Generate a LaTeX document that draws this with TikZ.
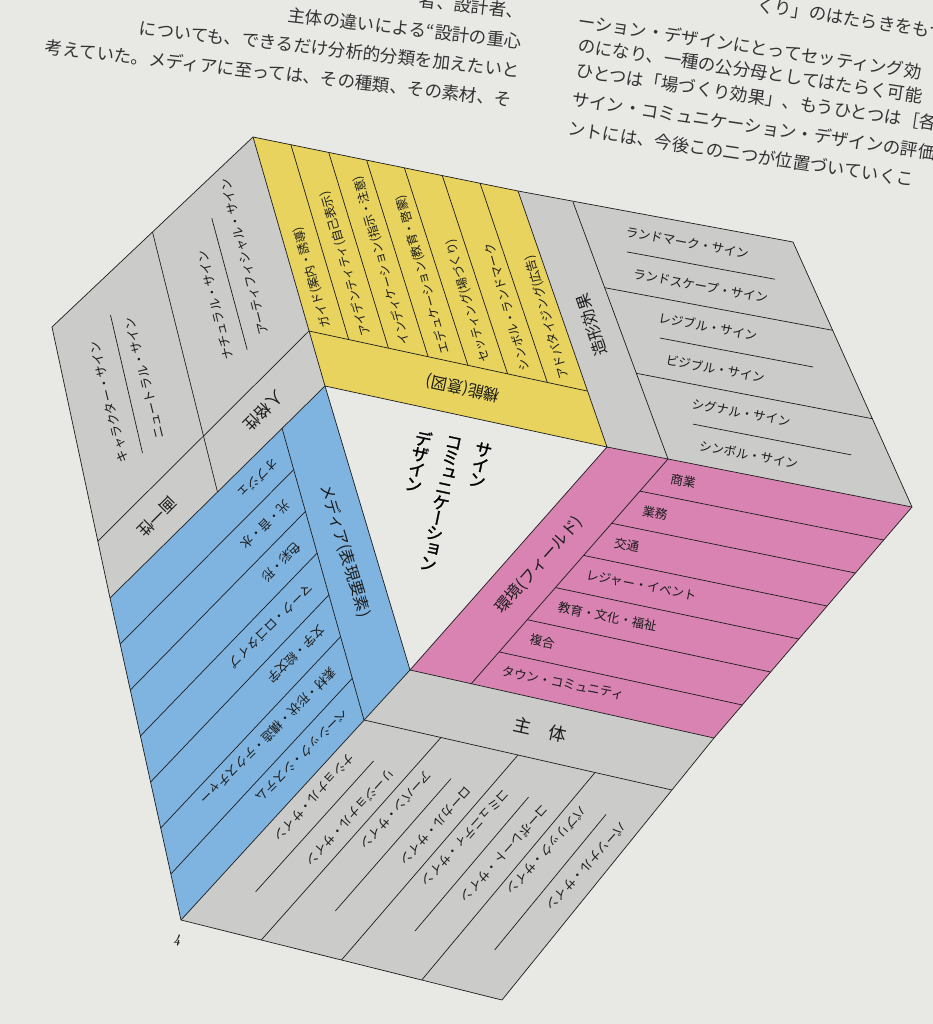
\documentclass[tikz,border=0pt]{standalone}
\usepackage{fontspec}
\newfontfamily\jpfont{Noto Sans CJK JP}
\newfontfamily\jpvfont[RawFeature=+vert, FakeBold=1.2]{Noto Sans CJK JP}
\definecolor{carta}{RGB}{232,232,229}
\definecolor{grigio}{RGB}{203,203,202}
\definecolor{giallo}{RGB}{231,211,94}
\definecolor{rosa}{RGB}{216,131,178}
\definecolor{azzurro}{RGB}{128,180,224}
\definecolor{inchiostro}{RGB}{28,28,28}
\begin{document}
\begin{tikzpicture}[x=1pt, y=-1pt,
    bordo/.style={draw=inchiostro, line width=0.7pt},
    voce/.style={font=\jpfont\fontsize{12.5}{14}\selectfont, text=inchiostro, inner sep=0pt, anchor=west},
    titolo/.style={font=\jpfont\fontsize{16}{18}\selectfont, text=inchiostro, inner sep=0pt},
    testo/.style={font=\jpfont\fontsize{17.5}{20}\selectfont, text=black!80, inner sep=0pt},
    tate/.style={font=\jpvfont\fontsize{17.5}{15.5}\selectfont, execute at begin node={\lineskiplimit=-20pt}, text=black, align=center, inner sep=0pt, anchor=north, rotate=-12}]

        % Sfondo della pagina
        \fill[carta] (0,0) rectangle (933,1024);
        \useasboundingbox (0,0) rectangle (933,1024);

        % Vertici principali
        \coordinate (A) at (325,386);
        \coordinate (B) at (607,447);
        \coordinate (C) at (410,670);
        \coordinate (Y1) at (253,137);
        \coordinate (Y2) at (518,191);
        \coordinate (L1) at (52,327);
        \coordinate (L2) at (110,598);
        \coordinate (BL) at (181,920);
        \coordinate (BR) at (502,1000);
        \coordinate (P4) at (714,738);
        \coordinate (R1) at (793,242);
        \coordinate (R3) at (912,507);

        % Vertici delle fasce
        \coordinate (P) at (309,331);
        \coordinate (Q) at (587,391);
        \coordinate (U1) at (98,541);
        \coordinate (G1) at (573,202);
        \coordinate (G2) at (668,459);
        \coordinate (K2) at (471,684);
        \coordinate (M1) at (282,428);
        \coordinate (D) at (364,720);
        \coordinate (E) at (672,790);

        % Riempimenti
        \fill[giallo] (Y1) -- (Y2) -- (B) -- (A) -- cycle;
        \fill[grigio] (Y2) -- (R1) -- (R3) -- (B) -- cycle;
        \fill[rosa] (B) -- (R3) -- (P4) -- (C) -- cycle;
        \fill[grigio] (C) -- (P4) -- (BR) -- (BL) -- cycle;
        \fill[azzurro] (A) -- (C) -- (BL) -- (L2) -- cycle;
        \fill[grigio] (Y1) -- (L1) -- (L2) -- (A) -- cycle;

        % Contorni
        \draw[bordo] (Y1) -- (Y2) -- (R1) -- (R3) -- (P4) -- (BR) -- (BL) -- (L2) -- (L1) -- cycle;
        \draw[bordo] (A) -- (B) -- (C) -- cycle;
        \draw[bordo] (Y1) -- (A) -- (L2);
        \draw[bordo] (Y2) -- (B) -- (R3);
        \draw[bordo] (P4) -- (C) -- (BL);

        % Fasce dei titoli
        \draw[bordo] (U1) -- (P) -- (Q);
        \draw[bordo] (G1) -- (G2) -- (K2);
        \draw[bordo] (M1) -- (D) -- (E);
        \draw[bordo] (152.5,232) -- (203.5,436) -- (217.5,492);

        % Colonne gialle
        \draw[bordo] (290.9,144.7) -- (348.7,339.6);
        \draw[bordo] (328.7,152.4) -- (388.4,348.1);
        \draw[bordo] (366.6,160.1) -- (428.1,356.7);
        \draw[bordo] (404.4,167.9) -- (467.9,365.3);
        \draw[bordo] (442.3,175.6) -- (507.6,373.9);
        \draw[bordo] (480.1,183.3) -- (547.3,382.4);

        % Righe grigie a destra
        \draw[bordo] (604.7,287.7) -- (832.7,330.3);
        \draw[bordo] (636.3,373.3) -- (872.3,418.7);

        % Righe rosa
        \draw[bordo] (639.9,491.1) -- (883.7,540);
        \draw[bordo] (611.7,523.3) -- (855.4,573);
        \draw[bordo] (583.6,555.4) -- (827.1,606);
        \draw[bordo] (555.4,587.6) -- (798.9,639);
        \draw[bordo] (527.3,619.7) -- (770.6,672);
        \draw[bordo] (499.1,651.9) -- (742.3,705);

        % Righe azzurre
        \draw[bordo] (293.7,469.7) -- (120.1,644);
        \draw[bordo] (305.4,511.4) -- (130.3,690);
        \draw[bordo] (317.1,553.1) -- (140.4,736);
        \draw[bordo] (328.9,594.9) -- (150.6,782);
        \draw[bordo] (340.6,636.6) -- (160.7,828);
        \draw[bordo] (352.3,678.3) -- (170.9,874);

        % Colonne grigie in basso
        \draw[bordo] (441,737.5) -- (261.25,940);
        \draw[bordo] (518,755) -- (341.5,960);
        \draw[bordo] (595,772.5) -- (421.75,980);

        % Trattini fra le coppie di voci
        \draw[bordo] (142.5,453) -- (110.5,315);
        \draw[bordo] (247.2,349.7) -- (211.8,218.3);
        \draw[bordo] (627,251.9) -- (774.8,279.2);
        \draw[bordo] (659.9,338) -- (813.1,367);
        \draw[bordo] (693,424.1) -- (851.4,454.9);
        \draw[bordo] (373.5,761) -- (255.6,891.8);
        \draw[bordo] (451,778.6) -- (335.3,911);
        \draw[bordo] (528.6,797) -- (415,931);
        \draw[bordo] (606,814.4) -- (494.6,950);

        % Voci gialle
        \node[voce, rotate=106, font=\jpfont\fontsize{12}{14}\selectfont] (g1) at (326.7,327.6) {ガイド(案内・誘導)};
        \node[voce, rotate=106, font=\jpfont\fontsize{12}{14}\selectfont] (g2) at (366.4,336.2) {アイデンティティ(自己表示)};
        \node[voce, rotate=106, font=\jpfont\fontsize{12}{14}\selectfont] (g3) at (406.1,344.7) {インディケーション(指示・注意)};
        \node[voce, rotate=106, font=\jpfont\fontsize{12}{14}\selectfont] (g4) at (445.8,353.3) {エデュケーション(教育・啓蒙)};
        \node[voce, rotate=106, font=\jpfont\fontsize{12}{14}\selectfont] (g5) at (485.6,361.9) {セッティング(場づくり)};
        \node[voce, rotate=106, font=\jpfont\fontsize{12}{14}\selectfont] (g6) at (525.3,370.5) {シンボル・ランドマーク};
        \node[voce, rotate=106, font=\jpfont\fontsize{12}{14}\selectfont] (g7) at (565,379) {アドバタイジング(広告)};

        % Voci rosa
        \node[voce, rotate=-11] (r1) at (670.7,478.3) {商業};
        \node[voce, rotate=-11] (r2) at (642.5,510.5) {業務};
        \node[voce, rotate=-11] (r3) at (614.4,542.7) {交通};
        \node[voce, rotate=-11] (r4) at (586.2,574.8) {レジャー・イベント};
        \node[voce, rotate=-11] (r5) at (558.1,607) {教育・文化・福祉};
        \node[voce, rotate=-11] (r6) at (529.9,639.1) {複合};
        \node[voce, rotate=-11] (r7) at (501.7,671.3) {タウン・コミュニティ};

        % Voci azzurre
        \node[voce, rotate=-135] (b1) at (275.8,460.9) {オブジェ};
        \node[voce, rotate=-135] (b2) at (287.5,502.6) {光・音・水};
        \node[voce, rotate=-135] (b3) at (299.2,544.3) {色彩・形};
        \node[voce, rotate=-135] (b4) at (310.9,586) {マーク・ロゴタイプ};
        \node[voce, rotate=-135] (b5) at (322.7,627.8) {文字・絵文字};
        \node[voce, rotate=-135] (b6) at (334.4,669.5) {素材・形状・構造・テクスチャー};
        \node[voce, rotate=-135] (b7) at (346.1,711.2) {ベーシック・システム};

        % Voci grigie a destra
        \node[voce, rotate=-10.5] (s1) at (625.7,231.3) {ランドマーク・サイン};
        \node[voce, rotate=-10.5] (s2) at (633.2,273.4) {ランドスケープ・サイン};
        \node[voce, rotate=-10.5] (s3) at (658.6,317.4) {レジブル・サイン};
        \node[voce, rotate=-10.5] (s4) at (666.1,359.5) {ビジブル・サイン};
        \node[voce, rotate=-10.5] (s5) at (691.7,403.5) {シグナル・サイン};
        \node[voce, rotate=-10.5] (s6) at (699.2,445.6) {シンボル・サイン};

        % Voci grigie a sinistra
        \node[voce, rotate=104] (n1) at (124.1,462.4) {キャラクター・サイン};
        \node[voce, rotate=104] (n2) at (159.7,438.8) {ニュートラル・サイン};
        \node[voce, rotate=104] (n3) at (229.2,359.7) {ナチュラル・サイン};
        \node[voce, rotate=104] (n4) at (263.9,334.8) {アーティフィシャル・サイン};

        % Voci grigie in basso
        \node[voce, rotate=-132] (u1) at (391.7,770.7) {リージョナル・サイン};
        \node[voce, rotate=-132] (u2) at (351.9,755) {ナショナル・サイン};
        \node[voce, rotate=-132] (u3) at (469.2,788.3) {ローカル・サイン};
        \node[voce, rotate=-132] (u4) at (429.4,772.6) {アーバン・サイン};
        \node[voce, rotate=-132] (u5) at (546.8,806.7) {コーポレート・サイン};
        \node[voce, rotate=-132] (u6) at (507,791) {コミュニティ・サイン};
        \node[voce, rotate=-132] (u7) at (624.2,824.1) {パーソナル・サイン};
        \node[voce, rotate=-132] (u8) at (584.4,808.4) {パブリック・サイン};

        % Titoli delle fasce
        \node[titolo, rotate=168] (funzione) at (463,388) {機能(意図)};
        \node[titolo, rotate=-135] (persona) at (263.5,411) {人格性};
        \node[titolo, rotate=-135] (unifor) at (157,517) {画一性};
        \node[titolo, rotate=109] (forma) at (591.5,325) {造形効果};
        \node[titolo, rotate=48.5] (ambiente) at (539,565) {環境(フィールド)};
        \node[titolo, rotate=-73.3] (media) at (345,551) {メディア(表現要素)};
        \node[titolo, rotate=-12.6, font=\jpfont\fontsize{18}{20}\selectfont] (soggetto) at (540,729.5) {主　体};

        % Titolo centrale in verticale
        \node[tate] (tsain) at (485,443) {サ\\イ\\ン};
        \node[tate] (tcomu) at (455,437) {コ\\ミ\\ュ\\ニ\\ケ\\ー\\シ\\ョ\\ン};
        \node[tate] (tdesign) at (425,431) {デ\\ザ\\イ\\ン};

        % Testo della pagina
        \node[testo, anchor=east, rotate=-6.5] (tl1) at (524,12) {者、設計者、};
        \node[testo, anchor=east, rotate=-6.5] (tl2) at (522,42) {主体の違いによる“設計の重心};
        \node[testo, anchor=east, rotate=-6.5] (tl3) at (520,71) {についても、できるだけ分析的分類を加えたいと};
        \node[testo, anchor=east, rotate=-6.5] (tl4) at (512,100) {考えていた。メディアに至っては、その種類、その素材、そ};
        \node[testo, anchor=west, rotate=-8.5] (tr1) at (757,5) {くり」のはたらきをもつ。};
        \node[testo, anchor=west, rotate=-8.5] (tr2) at (578,21) {ーション・デザインにとってセッティング効};
        \node[testo, anchor=west, rotate=-8.5] (tr3) at (578,45) {のになり、一種の公分母としてはたらく可能};
        \node[testo, anchor=west, rotate=-8.5] (tr4) at (576,70) {ひとつは「場づくり効果」、もうひとつは［各分};
        \node[testo, anchor=west, rotate=-8.5] (tr5) at (572,99) {サイン・コミュニケーション・デザインの評価};
        \node[testo, anchor=west, rotate=-8.5] (tr6) at (568,128) {ントには、今後この二つが位置づいていくこ};

        % Numero di pagina
        \node[font=\bfseries\itshape\fontsize{13}{15}\selectfont, text=inchiostro] (pagina) at (177,940) {4};
    \end{tikzpicture}
\end{document}
